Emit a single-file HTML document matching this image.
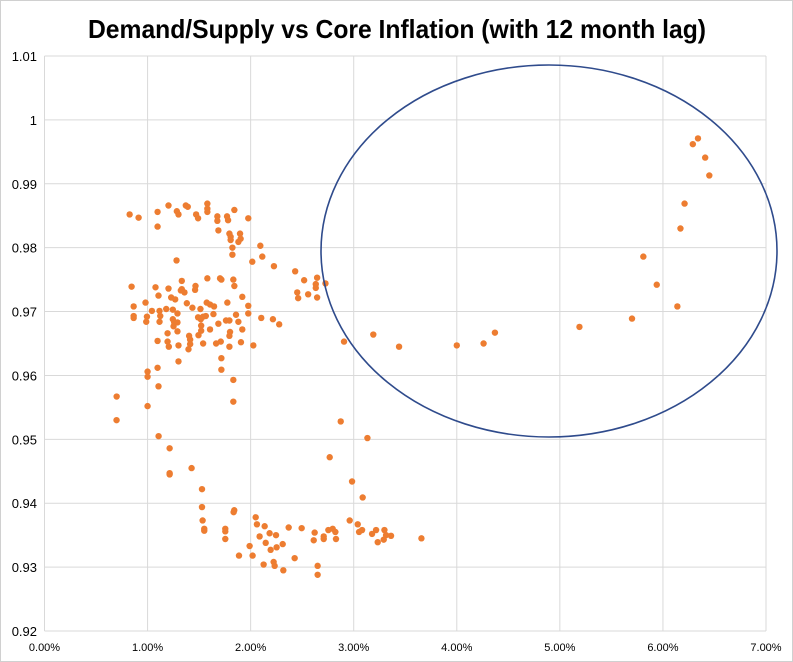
<!DOCTYPE html>
<html><head><meta charset="utf-8"><style>
html,body{margin:0;padding:0;background:#fff}
svg{display:block;font-family:"Liberation Sans",sans-serif}
</style></head><body>
<svg id="chart" width="793" height="662" viewBox="0 0 793 662">
<rect x="0.5" y="0.5" width="792" height="661" fill="#fff" stroke="#d0d0d0"/>
<text x="397" y="38" text-anchor="middle" font-size="26" font-weight="bold" textLength="618" lengthAdjust="spacingAndGlyphs" fill="#000">Demand/Supply vs Core Inflation (with 12 month lag)</text>
<g id="grid"></g><g id="axes"></g><g id="pts"></g>
<ellipse cx="549" cy="251" rx="228" ry="186" fill="none" stroke="#2f4b8c" stroke-width="1.6"/>
</svg>
<script>
const xTicks=[0,1,2,3,4,5,6,7];
const xTickLabels=["0.00%","1.00%","2.00%","3.00%","4.00%","5.00%","6.00%","7.00%"];
const yTicks=[0.92,0.93,0.94,0.95,0.96,0.97,0.98,0.99,1.00,1.01];
const yTickLabels=["0.92","0.93","0.94","0.95","0.96","0.97","0.98","0.99","1","1.01"];
const inflation=[0.826,0.913,1.097,1.097,1.203,1.284,1.30,1.371,1.39,1.471,1.49,1.58,1.58,1.58,1.677,1.677,1.771,1.781,1.842,1.977,1.687,1.794,1.806,1.806,1.897,1.903,1.881,1.823,1.823,2.094,2.113,2.016,2.226,2.432,2.519,2.645,2.632,2.632,2.726,2.452,2.461,2.558,2.645,1.281,
0.845,0.865,0.865,0.865,0.98,0.994,0.987,1.042,1.077,1.106,1.097,1.0,1.0,1.097,1.106,0.7,1.0,1.203,1.332,1.332,1.323,1.358,1.465,1.461,1.229,1.268,1.116,1.123,1.116,1.181,1.245,1.29,1.245,1.258,1.29,1.252,1.29,1.194,1.194,1.206,1.3,1.3,1.381,1.435,1.513,1.574,1.606,1.645,1.539,1.49,1.516,1.565,1.639,1.52,1.52,1.494,1.606,1.403,1.413,1.413,1.397,1.539,1.58,1.703,1.716,1.832,1.842,1.919,1.774,1.977,1.977,1.858,1.881,1.761,1.794,1.687,1.8,1.794,1.919,1.71,1.665,1.794,1.906,2.026,2.103,2.216,2.277,2.906,1.716,1.716,1.832,1.832,
0.699,1.107,1.214,1.214,1.214,1.427,1.528,1.528,1.534,1.55,1.55,1.754,1.754,1.754,1.835,1.841,1.887,2.049,2.061,2.087,1.99,2.019,2.126,2.136,2.184,2.246,2.146,2.194,2.252,2.311,2.223,2.233,2.317,2.369,2.427,2.495,2.621,2.612,2.709,2.709,2.65,2.65,2.754,2.796,2.822,2.828,2.874,2.767,2.984,3.087,3.133,2.961,3.039,3.052,3.081,3.178,3.217,3.233,3.298,3.291,3.314,3.362,3.657,
3.19,3.44,4.0,4.26,4.37,5.19,5.70,5.81,5.94,6.14,6.17,6.21,6.29,6.34,6.41,6.45];
const ratio=[0.9852,0.9847,0.9856,0.9833,0.9866,0.9857,0.9852,0.9866,0.9864,0.9852,0.9846,0.9869,0.9861,0.9856,0.9849,0.9842,0.9849,0.9843,0.9859,0.9846,0.9827,0.9822,0.9817,0.9812,0.9822,0.9814,0.9809,0.98,0.9789,0.9803,0.9786,0.9778,0.9771,0.9763,0.9749,0.9753,0.9743,0.9737,0.9744,0.973,0.9721,0.9727,0.9722,0.978,
0.9739,0.9708,0.9693,0.969,0.9714,0.9692,0.9684,0.9701,0.9738,0.9725,0.9654,0.9606,0.9598,0.9612,0.9583,0.9567,0.9552,0.9736,0.9748,0.9735,0.9733,0.973,0.974,0.9734,0.9722,0.9719,0.9701,0.9693,0.9684,0.9704,0.9703,0.9697,0.9688,0.9683,0.9683,0.9677,0.9669,0.9666,0.9653,0.9645,0.9647,0.9622,0.9713,0.9706,0.9704,0.9714,0.9711,0.9708,0.9692,0.9691,0.9688,0.9693,0.9696,0.9678,0.967,0.9663,0.9672,0.9662,0.9656,0.9649,0.9641,0.965,0.9752,0.9752,0.975,0.975,0.974,0.9723,0.9714,0.9709,0.9697,0.9695,0.9684,0.9686,0.9686,0.9681,0.9668,0.9662,0.9672,0.9653,0.965,0.9645,0.9652,0.9647,0.969,0.9688,0.968,0.9653,0.9627,0.9609,0.9593,0.9559,
0.953,0.9505,0.9486,0.9447,0.9445,0.9455,0.9422,0.9394,0.9373,0.936,0.9357,0.936,0.9356,0.9344,0.9386,0.9389,0.9318,0.9378,0.9367,0.9348,0.9333,0.9318,0.9304,0.9364,0.9353,0.935,0.9338,0.9327,0.9331,0.9336,0.9308,0.9302,0.9295,0.9362,0.9314,0.9361,0.9354,0.9342,0.9348,0.9344,0.9302,0.9288,0.9358,0.936,0.9355,0.9344,0.9528,0.9472,0.9434,0.9409,0.9502,0.9373,0.9367,0.9355,0.9358,0.9352,0.9358,0.9339,0.9358,0.9343,0.935,0.9349,0.9345,
0.9664,0.9645,0.9647,0.965,0.9667,0.9676,0.9689,0.9786,0.9742,0.9708,0.983,0.9869,0.9962,0.9971,0.9941,0.9913];
const L=44.5,R=766,T=56,B=631;
const xs=v=>L+(v-0)/7*(R-L);
const ys=v=>B-(v-0.92)/0.09*(B-T);
const NS="http://www.w3.org/2000/svg";
function mk(tag,attrs,parent){const e=document.createElementNS(NS,tag);for(const k in attrs)e.setAttribute(k,attrs[k]);document.getElementById(parent).appendChild(e);return e;}
xTicks.forEach((t,i)=>{
  const g=mk("line",{x1:xs(t),x2:xs(t),y1:T,y2:B,stroke:"#d9d9d9","stroke-width":1},"grid");
  
  
  const lb=mk("text",{x:xs(t),y:651,"text-anchor":"middle","font-size":11,fill:"#000"},"axes");
  lb.textContent=xTickLabels[i];
  
  
});
yTicks.forEach((t,i)=>{
  const g=mk("line",{x1:L,x2:R,y1:ys(t),y2:ys(t),stroke:"#d9d9d9","stroke-width":1},"grid");
  
  
  const lb=mk("text",{x:37,y:ys(t)+5,"text-anchor":"end","font-size":13,fill:"#000"},"axes");
  lb.textContent=yTickLabels[i];
  
  
});
inflation.forEach((v,i)=>{
  const c=mk("circle",{cx:xs(v),cy:ys(ratio[i]),r:3.2,fill:"#ed7d31"},"pts");
  
  
});
</script>
</body></html>
